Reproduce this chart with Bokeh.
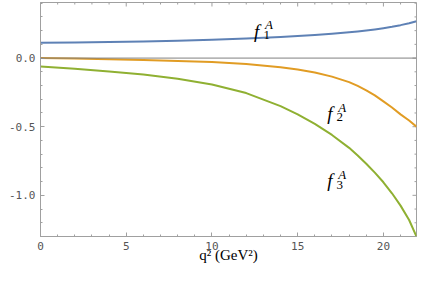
import math
from bokeh.plotting import figure
from bokeh.models import Range1d, FixedTicker, Span, Label
from bokeh.embed import file_html
from bokeh.resources import INLINE

# data
q2 = [0, 2, 4, 6, 8, 10, 12, 14, 15, 16, 17, 18, 18.5, 19, 19.5, 20, 20.5, 21, 21.5, 21.93]
f1A = [0.111, 0.114, 0.117, 0.121, 0.127, 0.134, 0.143, 0.154, 0.161, 0.168, 0.177,
       0.188, 0.194, 0.201, 0.209, 0.218, 0.228, 0.240, 0.254, 0.268]
f2A = [0.0, -0.003, -0.008, -0.014, -0.021, -0.029, -0.043, -0.066, -0.083, -0.105, -0.135,
       -0.175, -0.203, -0.235, -0.272, -0.315, -0.360, -0.410, -0.455, -0.500]
f3A = [-0.061, -0.078, -0.097, -0.120, -0.150, -0.192, -0.255, -0.350, -0.410, -0.480, -0.560,
       -0.654, -0.710, -0.770, -0.835, -0.905, -0.985, -1.075, -1.180, -1.300]

x_major = [0, 5, 10, 15, 20]
x_minor = list(range(0, 22))
y_major = [-1.0, -0.5, 0.0]
y_minor = [round(-1.3 + 0.1 * i, 1) for i in range(18)]
y_labels = {-1.0: "-1.0", -0.5: "-0.5", 0.0: "0.0"}
x_title = "q\u00b2 (GeV\u00b2)"

X0, X1 = 0, 21.93
Y0, Y1 = -1.30, 0.405

COL1 = "#5E81B5"
COL2 = "#E19C24"
COL3 = "#8FB032"
FRAME = "#a0a0a0"
TXT = "#555555"

p = figure(width=420, height=266, output_backend="svg", toolbar_location=None,
           x_range=Range1d(X0, X1), y_range=Range1d(Y0, Y1),
           min_border_left=40, min_border_right=4, min_border_top=2,
           min_border_bottom=30)
p.grid.visible = False
p.outline_line_color = FRAME
p.background_fill_color = "white"
p.border_fill_color = "white"

xt = FixedTicker(ticks=x_major, minor_ticks=x_minor)
yt = FixedTicker(ticks=y_major, minor_ticks=y_minor)

for ax in (p.xaxis[0], p.yaxis[0]):
    ax.axis_line_color = FRAME
    ax.major_tick_line_color = FRAME
    ax.minor_tick_line_color = FRAME
    ax.major_tick_in = 4
    ax.major_tick_out = 0
    ax.minor_tick_in = 2
    ax.minor_tick_out = 0
    ax.major_label_text_font = "DejaVu Sans Mono"
    ax.major_label_text_font_size = "11px"
    ax.major_label_text_color = TXT
    ax.major_label_standoff = 5
p.xaxis.ticker = xt
p.yaxis.ticker = yt
p.yaxis.major_label_overrides = y_labels

p.xaxis.axis_label = x_title
p.xaxis.axis_label_text_font = "Liberation Serif"
p.xaxis.axis_label_text_font_style = "normal"
p.xaxis.axis_label_text_font_size = "15px"
p.xaxis.axis_label_text_color = "black"
p.xaxis.axis_label_standoff = -6

# inward ticks on the top and right edges of the frame (half of each dash is clipped)
p.scatter([t for t in x_minor if t not in x_major], [Y1] * (len(x_minor) - len(x_major)),
          marker="dash", size=4, angle=math.pi / 2, line_color=FRAME, line_width=1)
p.scatter(x_major, [Y1] * len(x_major), marker="dash", size=8, angle=math.pi / 2,
          line_color=FRAME, line_width=1)
ym = [t for t in y_minor if t not in y_major]
p.scatter([X1] * len(ym), ym, marker="dash", size=4, line_color=FRAME, line_width=1)
p.scatter([X1] * len(y_major), y_major, marker="dash", size=8, line_color=FRAME, line_width=1)

p.add_layout(Span(location=0, dimension="width", line_color="#808080", line_width=1))

for ys, c in ((f1A, COL1), (f2A, COL2), (f3A, COL3)):
    p.line(q2, ys, line_color=c, line_width=2, line_join="round")

SERIF = "Liberation Serif"

def flabel(x, y, sub):
    p.add_layout(Label(x=x, y=y, text="f", text_font=SERIF, text_font_style="italic",
                       text_font_size="19px", text_baseline="middle", text_color="black"))
    p.add_layout(Label(x=x + 0.65, y=y + 0.045, text="A", text_font=SERIF,
                       text_font_style="italic", text_font_size="13px",
                       text_baseline="middle", text_color="black"))
    p.add_layout(Label(x=x + 0.55, y=y - 0.028, text=sub, text_font=SERIF,
                       text_font_size="13px", text_baseline="middle", text_color="black"))

flabel(12.45, 0.197, "1")
flabel(16.72, -0.403, "2")
flabel(16.72, -0.894, "3")

open("out.html", "w").write(file_html(p, INLINE))
